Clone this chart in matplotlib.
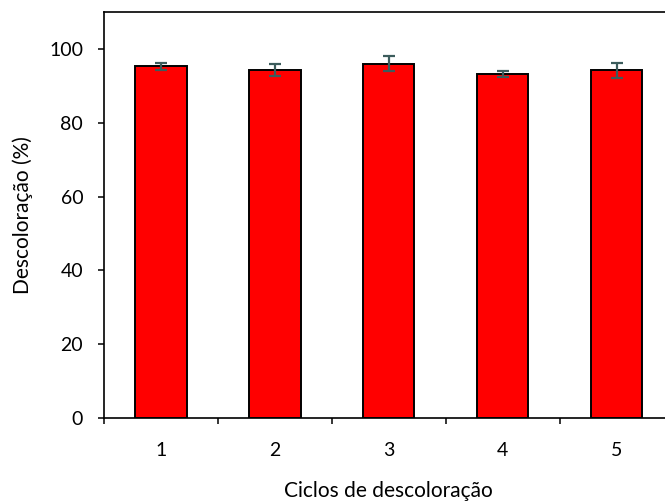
import matplotlib
matplotlib.use("Agg")
import matplotlib.pyplot as plt

# Descoloração média por ciclo, com desvio padrão
ciclos = ["1", "2", "3", "4", "5"]
descoloracao = [95.3, 94.3, 96.0, 93.2, 94.2]
desvio = [0.9, 1.7, 2.0, 0.9, 2.0]
y_ticks = [0, 20, 40, 60, 80, 100]

plt.rcParams["font.family"] = ["Lato", "DejaVu Sans"]

fig = plt.figure(figsize=(6.65, 5.01), dpi=100)
ax = fig.add_axes([0.1564, 0.1657, 0.8565, 0.8103])

x = range(1, len(ciclos) + 1)
ax.bar(x, descoloracao, width=0.45, color="#ff0000", edgecolor="black", linewidth=1.4, zorder=2)
ax.errorbar(x, descoloracao, yerr=desvio, fmt="none", ecolor="#3c5c5c",
            elinewidth=1.6, capsize=4.5, capthick=1.6, zorder=3)

ax.set_xlim(0.5, 5.5)
ax.set_ylim(0, 110)
ax.set_yticks(y_ticks)
ax.set_xticks(list(x))
ax.set_xticklabels(ciclos)
ax.set_xticks([0.5 + i for i in range(6)], minor=True)

ax.tick_params(axis="y", direction="out", length=4.5, width=1.1, pad=10.5, labelsize=14)
ax.tick_params(axis="x", which="major", length=0, pad=17, labelsize=14)
ax.tick_params(axis="x", which="minor", direction="out", length=4.5, width=1.1)

for side in ["left", "bottom", "top"]:
    ax.spines[side].set_linewidth(1.2)
ax.spines["right"].set_visible(False)

ax.set_xlabel("Ciclos de descoloração", fontsize=15, labelpad=16)
ax.set_ylabel("Descoloração (%)", fontsize=15, labelpad=12)

fig.savefig("out.png", dpi=100, facecolor="white")
